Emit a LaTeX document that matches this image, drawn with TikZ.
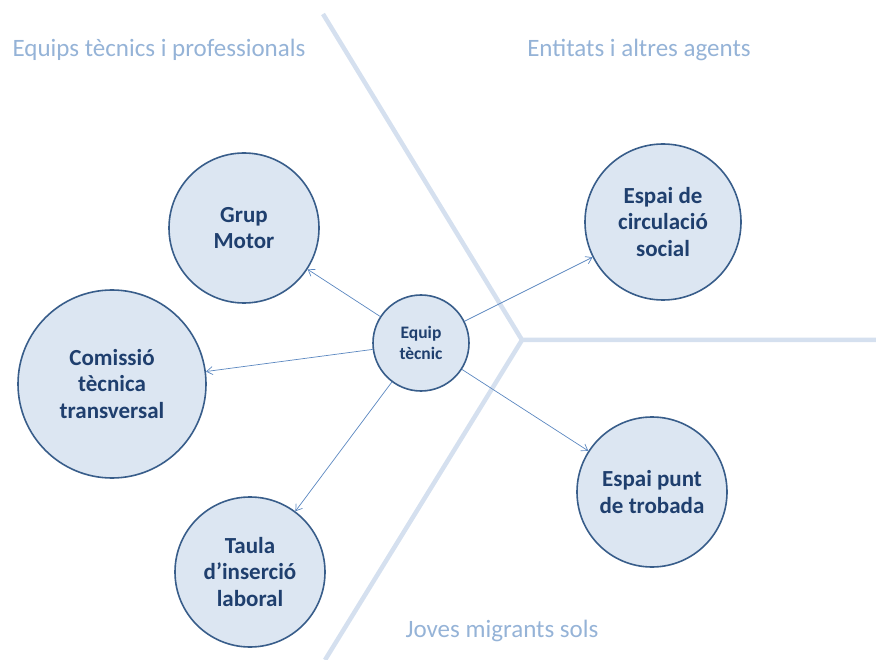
\documentclass[tikz,border=0pt]{standalone}
\usepackage{fontspec}
\setmainfont{Carlito}
\usepackage{tikz}
\usetikzlibrary{
  arrows.meta,
  positioning
}
\definecolor{ringfill}{HTML}{DCE6F2}
\definecolor{ringdraw}{HTML}{385D8A}
\definecolor{ringtext}{HTML}{1F3F6E}
\definecolor{linkblue}{HTML}{5B87C0}
\definecolor{zonetext}{HTML}{95B3D7}
\definecolor{zoneline}{HTML}{D5E0EF}
\tikzset{
  group/.style = {
    circle,
    draw=ringdraw,
    line width=1.6pt,
    fill=ringfill,
    text=ringtext,
    align=center,
    inner sep=0pt,
    font=\fontsize{23}{26.5}\selectfont\bfseries
  },
  zone/.style = {
    text=zonetext,
    font=\fontsize{25}{30}\selectfont
  },
  link/.style = {
    -{Straight Barb[length=6pt,width=8pt]},
    linkblue,
    line width=0.7pt
  }
}

\begin{document}
\begin{tikzpicture}[x=1pt, y=-1pt]

    \useasboundingbox (0,0) rectangle (876,660);

    % Divider between the three areas
    \coordinate (hub) at (522,340);
    \coordinate (top) at (323,14);
    \coordinate (right) at (876,340);
    \coordinate (bottom) at (325,660);
    \draw[zoneline, line width=4.5pt, line join=round]
        (top) -- (hub) -- (right)
        (hub) -- (bottom);

    % Area titles
    \node[zone] (professionals) at (159,50) {Equips tècnics i professionals};
    \node[zone] (entitats) at (639,50) {Entitats i altres agents};
    \node[zone] (joves) at (502,631) {Joves migrants sols};

    % Central team
    \node[group, minimum size=96pt, font=\fontsize{17.5}{21}\selectfont\bfseries]
        (equip) at (421,343) {Equip\\tècnic};

    % Groups around it
    \node[group, minimum size=150pt] (grup) at (244,228) {Grup\\Motor};
    \node[group, minimum size=188pt] (comissio) at (112,384) {Comissió\\tècnica\\transversal};
    \node[group, minimum size=150pt] (taula) at (250,572) {Taula\\d’inserció\\laboral};
    \node[group, minimum size=156pt] (circulacio) at (663,222) {Espai de\\circulació\\social};
    \node[group, minimum size=150pt] (trobada) at (652,492) {Espai punt\\de trobada};

    % Links from the central team
    \foreach \target in {grup, comissio, taula, circulacio, trobada} {
        \draw[link] (equip) -- (\target);
    }

\end{tikzpicture}
\end{document}
